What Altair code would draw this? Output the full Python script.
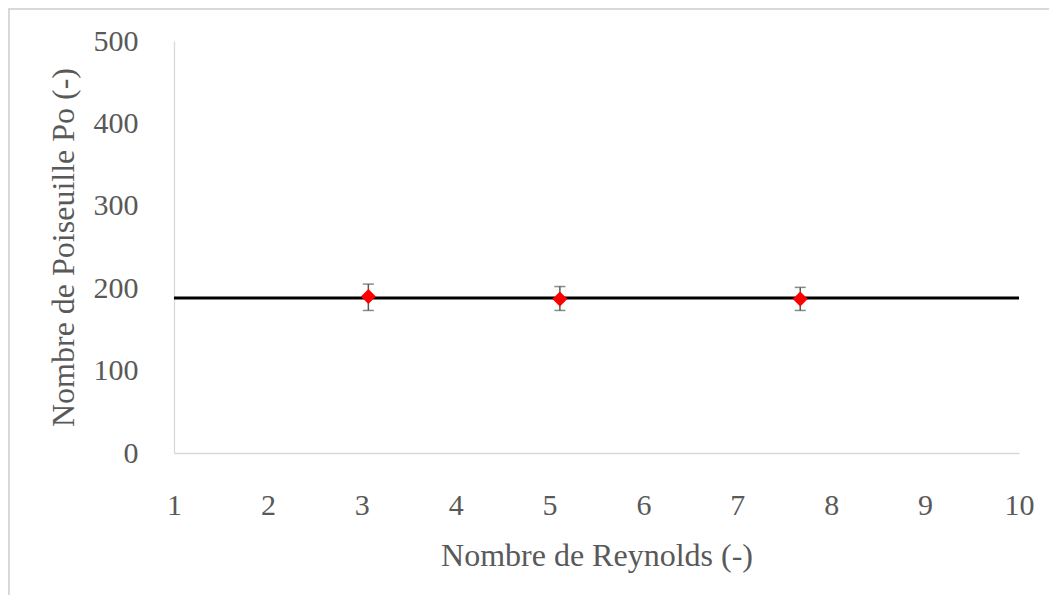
import altair as alt
import pandas as pd

# Measured points (Reynolds, Poiseuille) with error bars
reynolds = [3.07, 5.11, 7.67]
poiseuille = [190, 187, 187]
err_low = [173, 173, 173]
err_high = [205, 202, 201]

# Theoretical constant line
line_x = [1, 10]
line_y = [188, 188]

x_ticks = [1, 2, 3, 4, 5, 6, 7, 8, 9, 10]
y_ticks = [0, 100, 200, 300, 400, 500]

pts = pd.DataFrame({"Re": reynolds, "Po": poiseuille, "lo": err_low, "hi": err_high})
ln = pd.DataFrame({"Re": line_x, "Po": line_y})

FONT = "Liberation Serif"
GRAY = "#595959"

xscale = alt.Scale(domain=[1, 10], nice=False, zero=False)
yscale = alt.Scale(domain=[0, 500], nice=False)

xax = alt.Axis(values=x_ticks, format="d", title="Nombre de Reynolds (-)", grid=False, ticks=False,
               domainColor="#d9d9d9", domainWidth=1.3, labelPadding=37,
               titlePadding=20, labelFlush=False)
yax = alt.Axis(values=y_ticks, format="d", title="Nombre de Poiseuille Po (-)", grid=False, ticks=False,
               domainColor="#d9d9d9", domainWidth=1.3, labelPadding=36,
               titlePadding=13)

line = alt.Chart(ln).mark_line(color="black", strokeWidth=3).encode(
    x=alt.X("Re:Q", scale=xscale, axis=xax),
    y=alt.Y("Po:Q", scale=yscale, axis=yax),
)

bars = alt.Chart(pts).mark_rule(color=GRAY, strokeWidth=1.5).encode(
    x=alt.X("Re:Q", scale=xscale),
    y=alt.Y("lo:Q", scale=yscale),
    y2="hi:Q",
)
cap_lo = alt.Chart(pts).mark_tick(color=GRAY, orient="horizontal", size=11, thickness=1.5).encode(
    x=alt.X("Re:Q", scale=xscale), y=alt.Y("lo:Q", scale=yscale))
cap_hi = alt.Chart(pts).mark_tick(color=GRAY, orient="horizontal", size=11, thickness=1.5).encode(
    x=alt.X("Re:Q", scale=xscale), y=alt.Y("hi:Q", scale=yscale))

points = alt.Chart(pts).mark_point(shape="diamond", filled=True, color="#ff0000", size=225, opacity=1).encode(
    x=alt.X("Re:Q", scale=xscale), y=alt.Y("Po:Q", scale=yscale))

border = alt.Chart(pts).mark_rect(fill=None, stroke="#d9d9d9", strokeWidth=1.5).encode(
    x=alt.value(-165), x2=alt.value(879), y=alt.value(-32), y2=alt.value(557))

chart = alt.layer(border, line, bars, cap_lo, cap_hi, points).properties(
    width=845, height=412,
    padding={"left": 166, "top": 33, "right": 30, "bottom": 142},
    autosize=alt.AutoSizeParams(type="none"),
).configure_view(stroke=None).configure_axis(
    labelFont=FONT, titleFont=FONT, labelFontSize=30, titleFontSize=32,
    labelColor=GRAY, titleColor=GRAY, titleFontWeight="normal",
)

chart.save("out.html", embed_options={"renderer": "svg", "actions": False})
